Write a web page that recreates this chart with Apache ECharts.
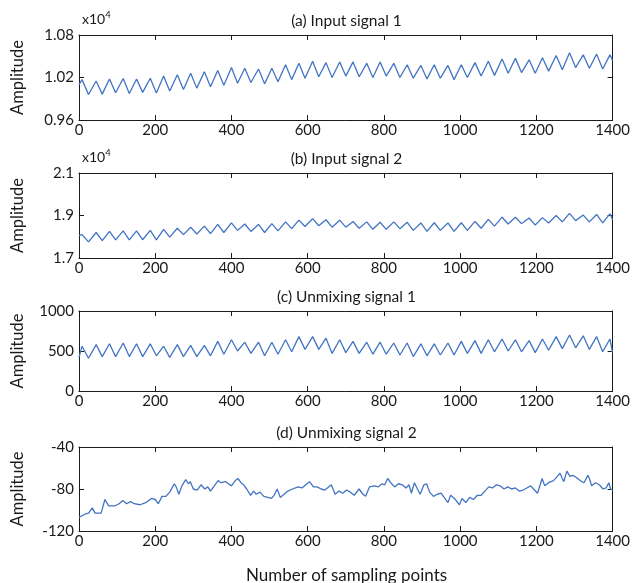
<!DOCTYPE html>
<html><head><meta charset="utf-8">
<script src="https://cdn.jsdelivr.net/npm/echarts@6/dist/echarts.min.js"></script>
<style>html,body{margin:0;padding:0;background:#fff}#c{width:633px;height:583px}</style>
</head><body><div id="c"></div>
<script>
// ---- data ----
const xTicks = [0, 200, 400, 600, 800, 1000, 1200, 1400];
const panelTitles = ['(a) Input signal 1', '(b) Input signal 2', '(c) Unmixing signal 1', '(d) Unmixing signal 2'];
const yTicksA = [9600, 10200, 10800];
const yTicksB = [17000, 19000, 21000];
const yTicksC = [0, 500, 1000];
const yTicksD = [-120, -80, -40];

// sample positions of the turning points of the periodic signals (a, b, c)
const cycleX = [0,
  8, 25, 45, 61, 80, 96, 116, 132, 151, 167, 187, 203, 222, 238, 258, 274, 293, 309, 329, 345,
  364, 380, 400, 416, 435, 451, 471, 487, 506, 522, 542, 558, 577, 593, 613, 629, 648, 664, 684, 700,
  719, 735, 755, 771, 790, 806, 826, 842, 861, 877, 897, 913, 932, 948, 968, 984, 1003, 1019, 1039, 1055,
  1074, 1090, 1110, 1126, 1145, 1161, 1181, 1197, 1216, 1232, 1252, 1268, 1287, 1303, 1323, 1339, 1358, 1374,
  1393, 1400];

const inputSignal1 = [10100,
  10170, 9960, 10150, 9965, 10180, 9985, 10185, 9975, 10180, 9990, 10190, 9980, 10220, 10010, 10240, 10030, 10260, 10050, 10280, 10070,
  10300, 10090, 10340, 10120, 10330, 10130, 10320, 10110, 10330, 10140, 10380, 10170, 10400, 10190, 10430, 10210, 10410, 10200, 10420, 10220,
  10420, 10210, 10400, 10200, 10420, 10220, 10400, 10200, 10380, 10190, 10370, 10180, 10380, 10190, 10370, 10170, 10380, 10200, 10410, 10220,
  10430, 10230, 10460, 10260, 10470, 10270, 10450, 10260, 10480, 10290, 10510, 10310, 10550, 10340, 10520, 10330, 10530, 10320,
  10520, 10440];

const inputSignal2 = [18050,
  18100, 17760, 18200, 17820, 18250, 17850, 18280, 17850, 18280, 17860, 18300, 17850, 18350, 17980, 18400, 18100, 18450, 18130, 18500, 18150,
  18580, 18200, 18650, 18300, 18600, 18250, 18580, 18200, 18620, 18280, 18700, 18380, 18780, 18480, 18850, 18520, 18800, 18450, 18780, 18450,
  18720, 18400, 18700, 18350, 18680, 18350, 18700, 18380, 18680, 18300, 18650, 18250, 18660, 18300, 18650, 18250, 18660, 18300, 18720, 18400,
  18820, 18500, 18920, 18600, 18920, 18620, 18880, 18550, 18900, 18650, 19000, 18700, 19100, 18760, 19020, 18700, 19050, 18650,
  19080, 18800];

const unmixSignal1 = [420,
  560, 410, 580, 430, 590, 430, 600, 430, 590, 430, 590, 440, 560, 420, 580, 430, 570, 430, 570, 440,
  620, 460, 640, 500, 610, 470, 610, 440, 610, 460, 640, 490, 680, 520, 680, 520, 660, 470, 640, 480,
  620, 470, 610, 460, 610, 460, 600, 450, 600, 430, 590, 440, 590, 450, 600, 450, 620, 470, 630, 470,
  640, 490, 650, 500, 640, 490, 630, 480, 650, 510, 680, 530, 700, 540, 690, 520, 680, 490,
  650, 480];

const unmixX = [0, 15, 25, 35, 42, 58, 68, 78, 95, 105, 115, 125, 135, 145, 160, 175, 190, 200, 208, 218,
  228, 238, 250, 255, 262, 270, 280, 287, 292, 300, 310, 320, 330, 338, 345, 355, 365, 372, 385, 392,
  400, 410, 417, 425, 432, 440, 450, 458, 465, 475, 485, 495, 505, 512, 520, 528, 538, 548, 560, 575,
  585, 595, 605, 615, 625, 635, 645, 655, 662, 672, 682, 692, 702, 712, 722, 735, 745, 752, 762, 775,
  785, 795, 802, 810, 818, 828, 838, 848, 858, 866, 872, 880, 888, 895, 905, 912, 920, 930, 940, 950,
  958, 968, 975, 985, 998, 1005, 1015, 1025, 1035, 1045, 1055, 1065, 1075, 1085, 1095, 1105, 1115, 1125, 1135, 1145,
  1155, 1165, 1175, 1185, 1195, 1203, 1210, 1215, 1222, 1232, 1245, 1255, 1262, 1268, 1272, 1280, 1288, 1295, 1305, 1315,
  1325, 1335, 1340, 1345, 1355, 1365, 1375, 1383, 1390, 1395, 1400];
const unmixSignal2 = [-107, -104, -103, -98, -103, -103, -90, -96, -96, -94, -91, -94, -92, -94, -95, -93, -89, -90, -94, -87,
  -87, -83, -75, -78, -85, -77, -71, -75, -73, -80, -81, -76, -80, -78, -82, -77, -72, -74, -73, -75,
  -77, -72, -70, -74, -76, -80, -86, -82, -85, -83, -87, -88, -89, -86, -80, -88, -85, -82, -80, -78,
  -79, -76, -73, -78, -78, -80, -81, -78, -76, -85, -82, -84, -81, -83, -86, -80, -85, -87, -78, -77,
  -78, -75, -76, -70, -74, -78, -75, -76, -79, -76, -84, -74, -80, -85, -76, -75, -83, -87, -85, -84,
  -88, -93, -86, -89, -95, -89, -93, -88, -90, -86, -86, -82, -78, -79, -76, -77, -80, -78, -80, -79,
  -82, -81, -79, -77, -81, -84, -76, -70, -77, -74, -72, -68, -65, -70, -73, -63, -68, -67, -69, -72,
  -74, -67, -71, -77, -74, -76, -80, -79, -74, -80, -81];

// ---- chart ----
const FONT = 'Lato';
const TXT = '#1a1a1a';
const LINE = '#4274c2';
const grids = [
  {left: 79, right: 19, top: 35, height: 85},
  {left: 79, right: 19, top: 173, height: 85},
  {left: 79, right: 19, top: 311, height: 80},
  {left: 79, right: 19, top: 447, height: 84}
];
const yTicks = [yTicksA, yTicksB, yTicksC, yTicksD];
const yFmt = [
  v => (v / 1e4).toFixed(2),
  v => (v / 1e4).toFixed(1),
  v => String(v),
  v => String(v)
];
const seriesData = [
  cycleX.map((x, i) => [x, inputSignal1[i]]),
  cycleX.map((x, i) => [x, inputSignal2[i]]),
  cycleX.map((x, i) => [x, unmixSignal1[i]]),
  unmixX.map((x, i) => [x, unmixSignal2[i]])
];

const axisLine = {show: true, onZero: false, lineStyle: {color: TXT, width: 1}};
const xAxes = [], yAxes = [], series = [], graphics = [];
grids.forEach((g, i) => {
  xAxes.push({
    gridIndex: i, type: 'value', position: 'bottom', min: xTicks[0], max: xTicks[xTicks.length - 1],
    axisLine, splitLine: {show: false},
    axisTick: {inside: true, length: 5, lineStyle: {color: TXT}, customValues: xTicks},
    axisLabel: {fontFamily: FONT, fontSize: 15, color: TXT, margin: 3, customValues: xTicks, formatter: v => String(v)}
  });
  xAxes.push({
    gridIndex: i, type: 'value', position: 'top', min: xTicks[0], max: xTicks[xTicks.length - 1],
    axisLine, splitLine: {show: false},
    axisTick: {inside: true, length: 5, lineStyle: {color: TXT}, customValues: xTicks},
    axisLabel: {show: false}
  });
  const t = yTicks[i];
  yAxes.push({
    gridIndex: i, type: 'value', position: 'left', min: t[0], max: t[t.length - 1],
    axisLine, splitLine: {show: false},
    axisTick: {inside: true, length: 5, lineStyle: {color: TXT}, customValues: t},
    axisLabel: {fontFamily: FONT, fontSize: 15, color: TXT, margin: 5, customValues: t, formatter: yFmt[i]}
  });
  yAxes.push({
    gridIndex: i, type: 'value', position: 'right', min: t[0], max: t[t.length - 1],
    axisLine, splitLine: {show: false},
    axisTick: {inside: true, length: 5, lineStyle: {color: TXT}, customValues: t},
    axisLabel: {show: false}
  });
  series.push({
    type: 'line', xAxisIndex: 2 * i, yAxisIndex: 2 * i, data: seriesData[i],
    showSymbol: false, symbol: 'none', animation: false,
    lineStyle: {color: LINE, width: 1.3}
  });
  graphics.push({
    type: 'text', x: 346.5, y: g.top - 14,
    style: {text: panelTitles[i], fontFamily: FONT, fontSize: 15.5, fill: TXT, align: 'center', verticalAlign: 'middle'}
  });
  graphics.push({
    type: 'text', x: 18, y: g.top + g.height / 2, rotation: Math.PI / 2,
    style: {text: 'Amplitude', fontFamily: FONT, fontSize: 16.5, fill: TXT, align: 'center', verticalAlign: 'middle'}
  });
});
[0, 1].forEach(i => {
  graphics.push({
    type: 'text', x: 82, y: grids[i].top - 25,
    style: {
      text: '{b|x10}{s|4}', fontFamily: FONT, fill: TXT,
      rich: {b: {fontSize: 14, fontFamily: FONT, fill: TXT}, s: {fontSize: 9.5, fontFamily: FONT, fill: TXT, padding: [0, 0, 8, 0]}}
    }
  });
});
graphics.push({
  type: 'text', x: 346.5, y: 576,
  style: {text: 'Number of sampling points', fontFamily: FONT, fontSize: 17, fill: TXT, align: 'center', verticalAlign: 'middle'}
});

const chart = echarts.init(document.getElementById('c'), null, {renderer: 'canvas'});
chart.setOption({
  animation: false,
  backgroundColor: '#fff',
  grid: grids,
  xAxis: xAxes,
  yAxis: yAxes,
  series,
  graphic: graphics
});
</script>
</body></html>
